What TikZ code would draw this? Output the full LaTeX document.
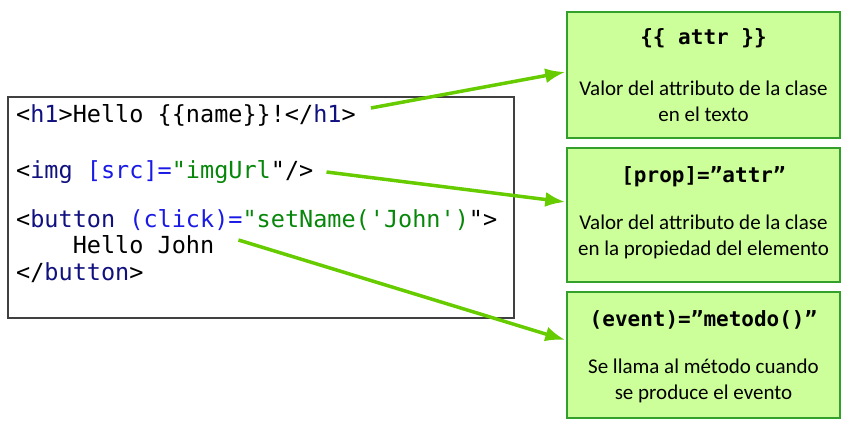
\documentclass[tikz,border=0pt]{standalone}
\usepackage{fontspec}
\setmainfont{Carlito}
\setmonofont{DejaVu Sans Mono}
\usetikzlibrary{positioning, calc, arrows.meta}

\definecolor{tagname}{HTML}{10107F}
\definecolor{bindblue}{HTML}{1A1AE6}
\definecolor{strgreen}{HTML}{07870A}
\definecolor{boxfill}{HTML}{CCFF99}
\definecolor{boxline}{HTML}{33A02C}
\definecolor{arrowgreen}{HTML}{66CC00}

\newcommand{\tagn}[1]{\textcolor{tagname}{#1}}
\newcommand{\bindn}[1]{\textcolor{bindblue}{#1}}
\newcommand{\strn}[1]{\textcolor{strgreen}{#1}}

\begin{document}
\begin{tikzpicture}[x=1pt,y=1pt,
    code/.style={anchor=base west, inner sep=0pt, font=\ttfamily\fontsize{23.5}{27}\selectfont},
    infobox/.style={draw=boxline, line width=1.5pt, fill=boxfill, minimum width=273pt, inner sep=0pt},
    boxtitle/.style={font=\ttfamily\bfseries\fontsize{21}{24}\selectfont},
    boxtext/.style={align=center, font=\fontsize{21}{26}\selectfont},
    link/.style={draw=arrowgreen, line width=3.5pt, -{Latex[length=20pt,width=15pt]}}]
  \useasboundingbox (0,0) rectangle (842,429);

  % code panel
  \node[draw=black!75, line width=1.2pt, minimum width=506pt, minimum height=221pt, inner sep=0pt] (codebox) at (261,221.5) {};
  \node[code] (l1) at (16,306) {<\tagn{h1}>Hello \{\{name\}\}!</\tagn{h1}>};
  \node[code] (l2) at (16,251) {<\tagn{img} \bindn{[src]=}\strn{"imgUrl}"/>};
  \node[code] (l3) at (16,202) {<\tagn{button} \bindn{(click)=}\strn{"setName('John')}">};
  \node[code] (l4) at (72.6,176) {Hello John};
  \node[code] (l5) at (16,149) {</\tagn{button}>};

  % explanation boxes
  \node[infobox, minimum height=126pt] (attrbox) at (703.5,354) {};
  \node[boxtitle] (attrtitle) at ([yshift=-27pt]attrbox.north) {\{\{ attr \}\}};
  \node[boxtext] (attrtext) at ([yshift=-90pt]attrbox.north) {Valor del attributo de la clase\\en el texto};

  \node[infobox, minimum height=134pt] (propbox) at (703.5,214) {};
  \node[boxtitle] (proptitle) at ([yshift=-29pt]propbox.north) {[prop]=”attr”};
  \node[boxtext] (proptext) at ([yshift=-90pt]propbox.north) {Valor del attributo de la clase\\en la propiedad del elemento};

  \node[infobox, minimum height=126pt] (eventbox) at (703.5,74) {};
  \node[boxtitle] (eventtitle) at ([yshift=-29pt]eventbox.north) {(event)=”metodo()”};
  \node[boxtext] (eventtext) at ([yshift=-90pt]eventbox.north) {Se llama al método cuando\\se produce el evento};

  % arrows
  \draw[link] ([shift={(15pt,15pt)}]l1.base east) -- ([shift={(-1pt,3pt)}]attrbox.west);
  \draw[link] ([shift={(13pt,6pt)}]l2.base east) -- ([shift={(-1pt,13pt)}]propbox.west);
  \draw[link] ([shift={(24pt,13pt)}]l4.base east) -- ([shift={(-1pt,15pt)}]eventbox.west);
\end{tikzpicture}
\end{document}
